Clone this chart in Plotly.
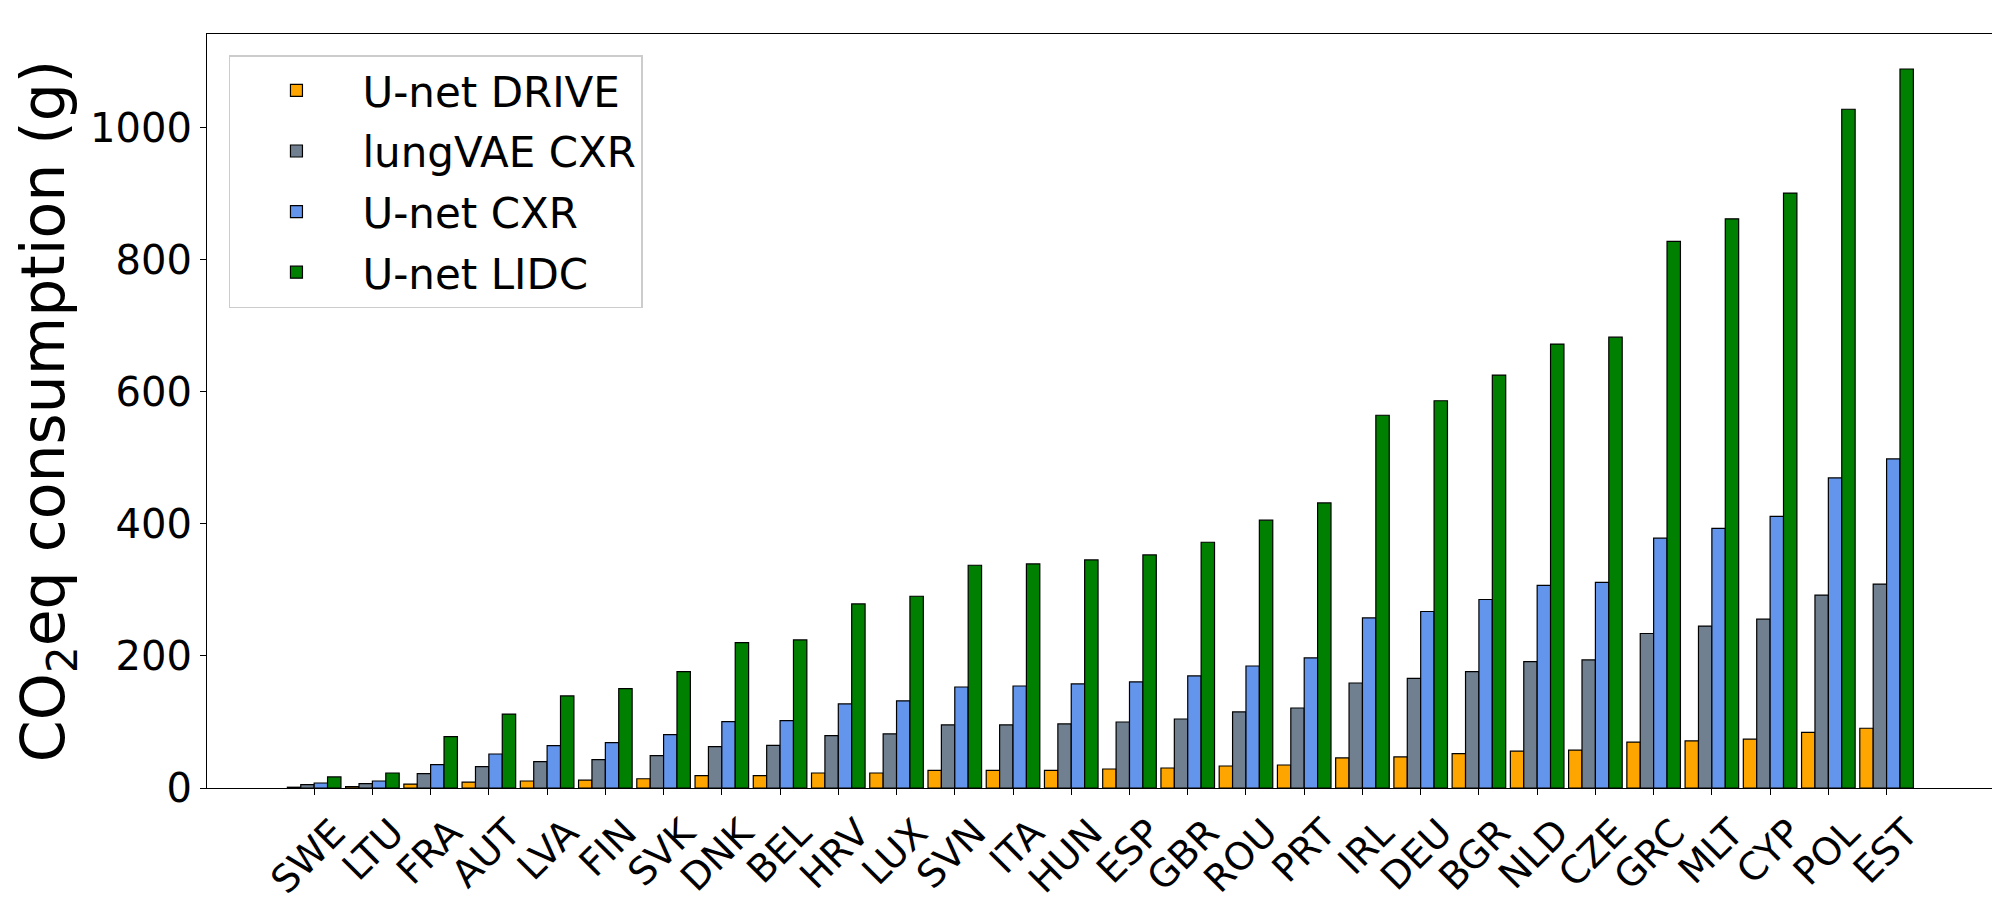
import plotly.graph_objects as go

countries = ["SWE", "LTU", "FRA", "AUT", "LVA", "FIN", "SVK", "DNK", "BEL", "HRV",
             "LUX", "SVN", "ITA", "HUN", "ESP", "GBR", "ROU", "PRT", "IRL", "DEU",
             "BGR", "NLD", "CZE", "GRC", "MLT", "CYP", "POL", "EST"]

unet_drive = [1.2, 2, 6, 9, 10.6, 12, 14, 18.7, 18.7, 22.7,
              22.7, 26.8, 26.8, 26.8, 28.8, 30.3, 33.3, 34.8, 45.5, 47,
              52, 55.7, 57.4, 69.6, 71.3, 73.9, 84.4, 90.5]
lungvae_cxr = [5, 6.6, 21.7, 32.3, 39.9, 42.9, 49, 62.6, 64.6, 79.3,
               82, 95.5, 95.5, 97, 100, 104.5, 115.2, 121.2, 159, 166,
               176.4, 191.4, 194, 234, 245.3, 255.7, 292.2, 308.8]
unet_cxr = [7.6, 10.6, 35.4, 51.5, 64.1, 68.7, 80.8, 100.5, 102, 127.3,
            132, 153, 154.5, 157.6, 160.6, 169.7, 184.8, 197, 257.6, 267.3,
            285.5, 307, 311.4, 378.4, 393.1, 411.4, 469.7, 498.4]
unet_lidc = [16.7, 22.7, 77.8, 112, 139.4, 150.5, 176.3, 220.2, 224.2, 278.8,
             290.4, 337.4, 339.4, 345.5, 353, 372.2, 405.6, 431.8, 564.6, 586.5,
             625.4, 672.3, 682.8, 828, 862, 901.1, 1028, 1089]

series = [
    ("U-net DRIVE", unet_drive, "#FFA500"),
    ("lungVAE CXR", lungvae_cxr, "#708090"),
    ("U-net CXR", unet_cxr, "#6495ED"),
    ("U-net LIDC", unet_lidc, "#008000"),
]

fig = go.Figure()
for i, (name, vals, color) in enumerate(series):
    fig.add_trace(go.Bar(
        x=countries, y=vals, name=name, legendgroup=f"g{i}",
        marker=dict(color=color, line=dict(color="black", width=1.2)),
    ))

font_family = "DejaVu Sans"
fig.update_layout(
    width=2000, height=900,
    paper_bgcolor="white", plot_bgcolor="white",
    margin=dict(l=199, r=16, t=26, b=120, autoexpand=False),
    barmode="group", bargap=0.08, bargroupgap=0,
    font=dict(family=font_family, size=38, color="black"),
    legend=dict(
        x=0.0123, y=0.972, xanchor="left", yanchor="top",
        bgcolor="white", bordercolor="#cccccc", borderwidth=1.5,
        font=dict(size=42, family=font_family),
        tracegroupgap=3, itemwidth=122,
    ),
    showlegend=True,
)
fig.update_xaxes(
    type="category", range=[-1.84, 28.81],
    tickangle=-45, ticks="outside", ticklen=6, tickwidth=1.3, tickcolor="black",
    ticklabelshift=20,
    showline=True, linecolor="black", linewidth=1.3, mirror=True,
    showgrid=False, zeroline=False,
    tickfont=dict(size=38, family=font_family),
)
fig.update_yaxes(
    range=[0, 1142], tickvals=[0, 200, 400, 600, 800, 1000],
    ticks="outside", ticklen=6, tickwidth=1.3, tickcolor="black",
    showline=True, linecolor="black", linewidth=1.3, mirror=True,
    showgrid=False, zeroline=False,
    tickfont=dict(size=40, family=font_family),
    title=dict(text="CO<sub>2</sub>eq consumption (g)", font=dict(size=60, family=font_family), standoff=13),
)

fig.write_html("out.html")
